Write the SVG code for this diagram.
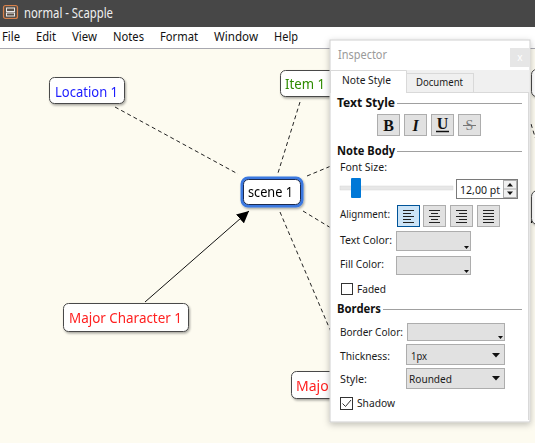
<svg xmlns="http://www.w3.org/2000/svg" width="535" height="443" viewBox="0 0 535 443">
<defs>
<style>
.ui{font-family:"Noto Sans","Open Sans","DejaVu Sans",sans-serif;font-size:11.5px;fill:#1a1a1a}
.hd{font-family:"Noto Sans","Open Sans","DejaVu Sans",sans-serif;font-size:12px;font-weight:bold;fill:#111}
.menu{font-family:"Noto Sans","Open Sans","DejaVu Sans",sans-serif;font-size:12.5px;fill:#111}
.lbl{font-family:"Noto Sans","Open Sans","DejaVu Sans",sans-serif;font-size:14px}
.node{fill:#fff;stroke:#4a4a4a;stroke-width:1}
.dash{stroke:#222;stroke-width:1;stroke-dasharray:4 3;fill:none}
.btn{fill:#e1e1e1;stroke:#adadad;stroke-width:1}
.sep{stroke:#a0a0a0;stroke-width:1}
.ser{font-family:"Liberation Serif","DejaVu Serif",serif;font-size:16px;font-weight:bold;fill:#111}
</style>
<filter id="sh" x="-20%" y="-20%" width="150%" height="160%">
<feDropShadow dx="1" dy="1.5" stdDeviation="1.2" flood-color="#000" flood-opacity="0.35"/>
</filter>
<filter id="psh" x="-10%" y="-10%" width="120%" height="120%">
<feDropShadow dx="0" dy="2" stdDeviation="3" flood-color="#000" flood-opacity="0.25"/>
</filter>
<marker id="ah" viewBox="0 0 10 10" refX="10" refY="5" markerWidth="12" markerHeight="12" markerUnits="userSpaceOnUse" orient="auto">
<path d="M0,0 L10,5 L0,10 z" fill="#000"/>
</marker>
</defs>

<!-- window chrome -->
<rect x="0" y="0" width="535" height="443" fill="#fdfbf0"/>
<rect x="0" y="0" width="535" height="27" fill="#474747"/>
<g id="app-icon">
<rect x="3.5" y="5.5" width="14" height="13" rx="2" fill="#5a5048" stroke="#d8804a" stroke-width="1.2"/>
<rect x="6.5" y="8" width="8" height="3.5" fill="none" stroke="#e8e8e8" stroke-width="1"/>
<rect x="6.5" y="13" width="8" height="3" fill="none" stroke="#e8e8e8" stroke-width="1"/>
</g>
<text x="24" y="17.5" font-family="Noto Sans, Open Sans, sans-serif" font-size="14" fill="#f0f0f0" textLength="89" lengthAdjust="spacingAndGlyphs">normal - Scapple</text>
<rect x="0" y="27" width="535" height="21" fill="#fff"/>
<line x1="0" y1="48.5" x2="535" y2="48.5" stroke="#a8a8b0"/>
<g id="menu">
<text class="menu" x="2" y="41" textLength="18" lengthAdjust="spacingAndGlyphs">File</text>
<text class="menu" x="36" y="41" textLength="20" lengthAdjust="spacingAndGlyphs">Edit</text>
<text class="menu" x="72" y="41" textLength="25" lengthAdjust="spacingAndGlyphs">View</text>
<text class="menu" x="113" y="41" textLength="31" lengthAdjust="spacingAndGlyphs">Notes</text>
<text class="menu" x="160" y="41" textLength="38" lengthAdjust="spacingAndGlyphs">Format</text>
<text class="menu" x="214" y="41" textLength="44" lengthAdjust="spacingAndGlyphs">Window</text>
<text class="menu" x="274" y="41" textLength="24" lengthAdjust="spacingAndGlyphs">Help</text>
</g>

<!-- connectors -->
<g id="connectors">
<line class="dash" x1="115" y1="107" x2="238" y2="174"/>
<line class="dash" x1="300" y1="102" x2="278" y2="173"/>
<line class="dash" x1="307" y1="176" x2="331" y2="166"/>
<line class="dash" x1="303" y1="211" x2="331" y2="228"/>
<line class="dash" x1="280" y1="212" x2="331" y2="332"/>
<line x1="145" y1="302" x2="249" y2="211" stroke="#111" stroke-width="1" marker-end="url(#ah)"/>
<line class="dash" x1="531" y1="124" x2="536" y2="140"/>
<line x1="536" y1="216" x2="531" y2="223" stroke="#111" stroke-width="1" marker-end="url(#ah)"/>
</g>

<!-- nodes -->
<g id="node-location1" filter="url(#sh)">
<rect class="node" x="49.5" y="77.5" width="75" height="26" rx="5"/>
<text class="lbl" x="55" y="97" fill="#1a1aff" textLength="63" lengthAdjust="spacingAndGlyphs">Location 1</text>
</g>
<g id="node-item1" filter="url(#sh)">
<rect class="node" x="280.5" y="70.5" width="55" height="26" rx="5"/>
<text class="lbl" x="285" y="89" fill="#2e8b00" textLength="40" lengthAdjust="spacingAndGlyphs">Item 1</text>
</g>
<g id="node-scene1" filter="url(#sh)">
<rect x="242" y="178" width="60" height="28" rx="6" fill="#fff" stroke="#3a78e0" stroke-width="3"/>
<rect x="243.5" y="179.5" width="57" height="25" rx="5" fill="none" stroke="#1a2a50" stroke-width="1"/>
<text class="lbl" x="248" y="197" fill="#000" textLength="45" lengthAdjust="spacingAndGlyphs">scene 1</text>
</g>
<g id="node-major1" filter="url(#sh)">
<rect class="node" x="63.5" y="303.5" width="125" height="28" rx="5"/>
<text class="lbl" x="69" y="323" fill="#ff2020" textLength="113" lengthAdjust="spacingAndGlyphs">Major Character 1</text>
</g>
<g id="node-major2" filter="url(#sh)">
<rect class="node" x="291.5" y="371.5" width="70" height="27" rx="5"/>
<text class="lbl" x="296" y="391" fill="#ff2020">Major</text>
</g>
<g id="node-right-a" filter="url(#sh)">
<rect class="node" x="531.5" y="69.5" width="40" height="27" rx="5"/>
</g>
<g id="node-right-b" filter="url(#sh)">
<rect class="node" x="531.5" y="190.5" width="40" height="34" rx="6"/>
</g>

<!-- inspector panel -->
<g id="inspector">
<rect x="330" y="40" width="200" height="382" fill="#fff" stroke="#cfcfcf" filter="url(#psh)"/>
<text x="338" y="59" font-family="Noto Sans, Open Sans, sans-serif" font-size="12" fill="#9a9a9a" textLength="49" lengthAdjust="spacingAndGlyphs">Inspector</text>
<rect x="510" y="48" width="20" height="19" fill="#e6e6e6"/>
<text x="520" y="61" font-family="Noto Sans, sans-serif" font-size="10" fill="#fff" text-anchor="middle">x</text>
<rect x="330.5" y="70" width="199" height="22" fill="#f0f0f0"/>
<line x1="330" y1="92.5" x2="529" y2="92.5" stroke="#d9d9d9"/>
<rect x="406.5" y="73.5" width="67" height="19" fill="#f0f0f0" stroke="#d9d9d9"/>
<path d="M330.5,93 V70.5 H406.5 V93" fill="#fff" stroke="#d9d9d9"/>
<rect x="331" y="91" width="75" height="3" fill="#fff"/>
<line x1="528.5" y1="92" x2="528.5" y2="420" stroke="#d9d9d9"/>
<text class="ui" x="342" y="84" textLength="49" lengthAdjust="spacingAndGlyphs">Note Style</text>
<text class="ui" x="416" y="86" textLength="47" lengthAdjust="spacingAndGlyphs">Document</text>

<text class="hd" x="337" y="107" textLength="58" lengthAdjust="spacingAndGlyphs">Text Style</text>
<line class="sep" x1="397" y1="103.5" x2="522" y2="103.5"/>
<rect class="btn" x="377.5" y="114.5" width="22" height="21"/>
<text class="ser" x="388.5" y="131" text-anchor="middle">B</text>
<rect class="btn" x="404.5" y="114.5" width="22" height="21"/>
<text class="ser" x="415.5" y="131" text-anchor="middle" font-style="italic">I</text>
<rect class="btn" x="431.5" y="114.5" width="22" height="21"/>
<text class="ser" x="442.5" y="129" text-anchor="middle" font-size="14">U</text>
<line x1="436" y1="131.5" x2="449" y2="131.5" stroke="#111" stroke-width="1.5"/>
<rect class="btn" x="458.5" y="114.5" width="22" height="21"/>
<text x="469.5" y="130" text-anchor="middle" font-family="Liberation Serif, serif" font-size="14" fill="#777">S</text>
<line x1="463" y1="125.5" x2="476" y2="125.5" stroke="#777" stroke-width="1"/>

<text class="hd" x="337" y="155" textLength="58" lengthAdjust="spacingAndGlyphs">Note Body</text>
<line class="sep" x1="397" y1="151.5" x2="522" y2="151.5"/>
<text class="ui" x="340" y="171" textLength="47" lengthAdjust="spacingAndGlyphs">Font Size:</text>
<rect x="340" y="186" width="113" height="4" fill="#e7e7e7" stroke="#d6d6d6" stroke-width="0.5"/>
<rect x="351" y="178" width="10" height="20" rx="1" fill="#0078d7"/>
<rect x="456.5" y="179.5" width="61" height="19" fill="#fff" stroke="#7a7a7a"/>
<text class="ui" x="460" y="194" textLength="40" lengthAdjust="spacingAndGlyphs">12,00 pt</text>
<rect x="503.5" y="180.5" width="13" height="17" fill="#f0f0f0" stroke="#adadad"/>
<line x1="504" y1="189" x2="516" y2="189" stroke="#adadad"/>
<path d="M507,186.5 L510,183 L513,186.5 z" fill="#111"/>
<path d="M507,191.5 L510,195 L513,191.5 z" fill="#111"/>

<text class="ui" x="340" y="218" textLength="50" lengthAdjust="spacingAndGlyphs">Alignment:</text>
<rect x="397.5" y="205.5" width="22" height="21" fill="#cce4f7" stroke="#005499"/>
<path d="M403,210.5 H414 M403,213.5 H411 M403,216.5 H414 M403,219.5 H411 M403,222.5 H414" stroke="#222" stroke-width="1"/>
<rect class="btn" x="423.5" y="205.5" width="22" height="21"/>
<path d="M429,210.5 H440 M431,213.5 H438 M429,216.5 H440 M431,219.5 H438 M429,222.5 H440" stroke="#222" stroke-width="1"/>
<rect class="btn" x="450.5" y="205.5" width="22" height="21"/>
<path d="M456,210.5 H467 M459,213.5 H467 M456,216.5 H467 M459,219.5 H467 M456,222.5 H467" stroke="#222" stroke-width="1"/>
<rect class="btn" x="477.5" y="205.5" width="22" height="21"/>
<path d="M483,210.5 H494 M483,213.5 H494 M483,216.5 H494 M483,219.5 H494 M483,222.5 H494" stroke="#222" stroke-width="1"/>

<text class="ui" x="340" y="244" textLength="52" lengthAdjust="spacingAndGlyphs">Text Color:</text>
<rect class="btn" x="396.5" y="231.5" width="74" height="19"/>
<path d="M464,246 L469,246 L466.5,249 z" fill="#111"/>
<text class="ui" x="340" y="268" textLength="44" lengthAdjust="spacingAndGlyphs">Fill Color:</text>
<rect class="btn" x="396.5" y="256.5" width="74" height="18"/>
<path d="M464,270 L469,270 L466.5,273 z" fill="#111"/>
<rect x="341.5" y="283.5" width="11" height="11" fill="#fff" stroke="#333"/>
<text class="ui" x="357" y="293" textLength="29" lengthAdjust="spacingAndGlyphs">Faded</text>

<text class="hd" x="337" y="313" textLength="44" lengthAdjust="spacingAndGlyphs">Borders</text>
<line class="sep" x1="383" y1="309.5" x2="522" y2="309.5"/>
<text class="ui" x="340" y="336" textLength="63" lengthAdjust="spacingAndGlyphs">Border Color:</text>
<rect class="btn" x="407.5" y="323.5" width="97" height="17"/>
<path d="M498,336 L503,336 L500.5,339 z" fill="#111"/>
<text class="ui" x="340" y="360" textLength="50" lengthAdjust="spacingAndGlyphs">Thickness:</text>
<rect class="btn" x="406.5" y="344.5" width="98" height="20"/>
<text class="ui" x="411" y="360" textLength="16" lengthAdjust="spacingAndGlyphs">1px</text>
<path d="M492,353 L500,353 L496,357.5 z" fill="#111"/>
<text class="ui" x="340" y="383" textLength="27" lengthAdjust="spacingAndGlyphs">Style:</text>
<rect class="btn" x="406.5" y="368.5" width="98" height="20"/>
<text class="ui" x="409" y="383" textLength="43" lengthAdjust="spacingAndGlyphs">Rounded</text>
<path d="M492,376 L500,376 L496,380.5 z" fill="#111"/>
<rect x="340.5" y="397.5" width="12" height="12" fill="#fff" stroke="#333"/>
<path d="M342.5,403.5 L345.5,406.5 L351,400" fill="none" stroke="#333" stroke-width="1"/>
<text class="ui" x="357" y="407" textLength="38" lengthAdjust="spacingAndGlyphs">Shadow</text>
</g>
</svg>
